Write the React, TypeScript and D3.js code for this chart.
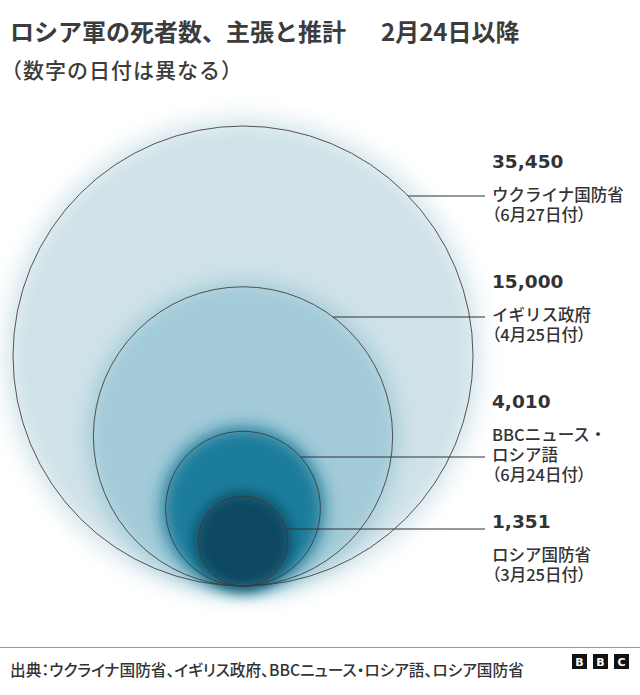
import React from "react";
import * as d3 from "d3";

// ---- data ----
const values = [35450, 15000, 4010, 1351];
const sourceLines = [
  ["ウクライナ国防省", "（6月27日付）"],
  ["イギリス政府", "（4月25日付）"],
  ["BBCニュース・", "ロシア語", "（6月24日付）"],
  ["ロシア国防省", "（3月25日付）"],
];
const fills = ["#cfe2e8", "#a2cad8", "#1a7d9b", "#0b4a61"];
const titleMain = "ロシア軍の死者数、主張と推計";
const titleDate = "2月24日以降";
const subtitle = "（数字の日付は異なる）";
const footer = "出典：ウクライナ国防省、イギリス政府、BBCニュース・ロシア語、ロシア国防省";

// ---- layout ----
const W = 640;
const H = 695;
const CX = 243;
const BASE_Y = 586;
const numberBaselines = [168, 288, 408, 528];
const leaderYs = [196, 317, 457, 529];
const LABEL_X = 492;
const LEADER_END = 485;
const JP = "'Noto Sans CJK JP', 'Noto Sans', sans-serif";
const palt = { fontFeatureSettings: '"palt"' } as React.CSSProperties;

export default function App() {
  const r = d3.scaleSqrt().domain([0, d3.max(values) as number]).range([0, 230]);
  const fmt = d3.format(",");
  const blurs = [12, 10, 8, 7];

  return (
    <svg
      width={W}
      height={H}
      viewBox={`0 0 ${W} ${H}`}
      style={{ position: "absolute", left: 0, top: 0, background: "#fff" }}
    >
      <defs>
        {blurs.map((b, i) => (
          <filter key={i} id={`blur${i}`} x="-40%" y="-40%" width="180%" height="180%">
            <feGaussianBlur stdDeviation={b} />
          </filter>
        ))}
      </defs>
      <rect width={W} height={H} fill="#fff" />

      {/* title */}
      <text x={10} y={41} fontFamily={JP} fontWeight={700} fontSize={24} fill="#3c3c3c">
        {titleMain}
      </text>
      <text x={381} y={41} fontFamily={JP} fontWeight={700} fontSize={24} fill="#3c3c3c" style={palt}>
        {titleDate}
      </text>
      <text x={1} y={78} fontFamily={JP} fontWeight={500} fontSize={21} letterSpacing={1} fill="#3c3c3c">
        {subtitle}
      </text>

      {/* blurred fills */}
      {values.map((v, i) => {
        const rr = r(v);
        return (
          <circle
            key={"f" + i}
            cx={CX}
            cy={BASE_Y - rr}
            r={rr + blurs[i] * 0.5}
            fill={fills[i]}
            filter={`url(#blur${i})`}
          />
        );
      })}

      {/* outlines */}
      {values.map((v, i) => {
        const rr = r(v);
        return (
          <circle
            key={"s" + i}
            cx={CX}
            cy={BASE_Y - rr}
            r={rr}
            fill="none"
            stroke="#3a3a3a"
            strokeOpacity={0.85}
            strokeWidth={1}
          />
        );
      })}

      {/* leaders */}
      {values.map((v, i) => {
        const rr = r(v);
        const cy = BASE_Y - rr;
        const dy = leaderYs[i] - cy;
        const x0 = CX + Math.sqrt(Math.max(0, rr * rr - dy * dy));
        return (
          <line
            key={"l" + i}
            x1={x0}
            x2={LEADER_END}
            y1={leaderYs[i]}
            y2={leaderYs[i]}
            stroke="#333"
            strokeWidth={1}
          />
        );
      })}

      {/* labels */}
      {values.map((v, i) => (
        <g key={"t" + i} fill="#333">
          <text
            x={LABEL_X}
            y={numberBaselines[i]}
            fontFamily="'DejaVu Sans', sans-serif"
            fontWeight={700}
            fontSize={18.5}
          >
            {fmt(v)}
          </text>
          {sourceLines[i].map((s, j) => (
            <text
              key={j}
              x={LABEL_X}
              y={numberBaselines[i] + 33 + j * 20}
              fontFamily={JP}
              fontWeight={500}
              fontSize={16.5}
              style={s.startsWith("（") ? palt : undefined}
            >
              {s}
            </text>
          ))}
        </g>
      ))}

      {/* footer */}
      <line x1={0} x2={W} y1={647.5} y2={647.5} stroke="#9a9a9a" strokeWidth={1} />
      <text x={10} y={676} fontFamily={JP} fontWeight={500} fontSize={15.7} fill="#333" style={palt}>
        {footer}
      </text>
      {["B", "B", "C"].map((c, i) => (
        <g key={"b" + i}>
          <rect x={572 + i * 21} y={654} width={15} height={15} fill="#111" />
          <text
            x={572 + i * 21 + 7.5}
            y={666}
            textAnchor="middle"
            fontFamily="'DejaVu Sans', sans-serif"
            fontWeight={700}
            fontSize={11}
            fill="#fff"
          >
            {c}
          </text>
        </g>
      ))}
    </svg>
  );
}
